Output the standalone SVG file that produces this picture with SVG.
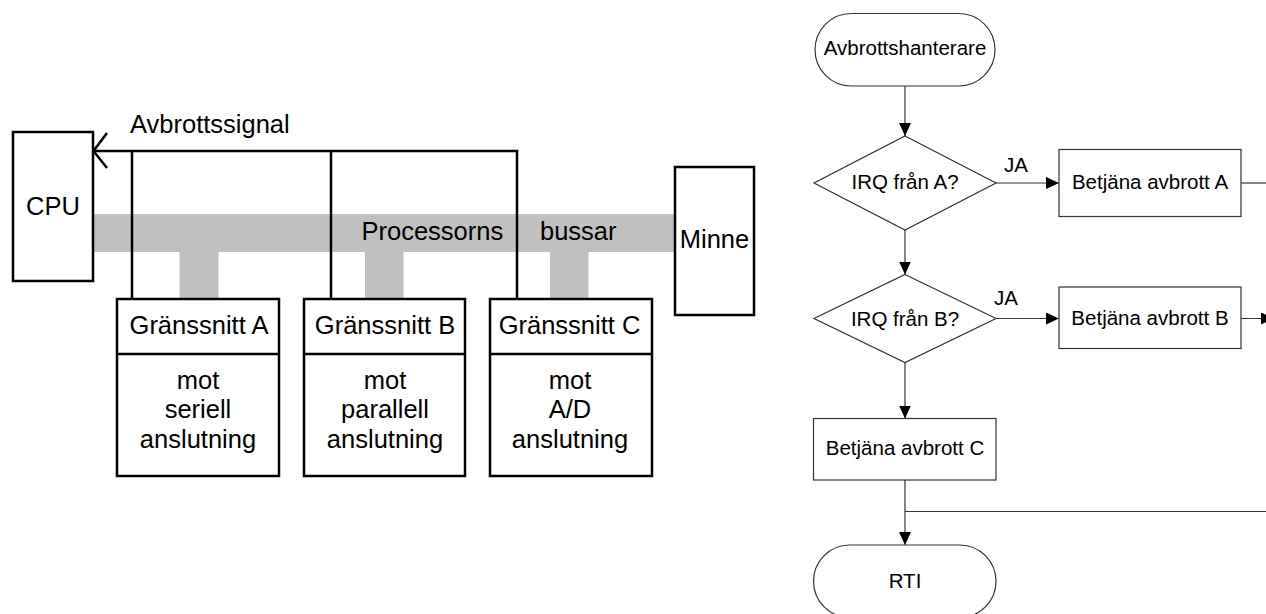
<svg xmlns="http://www.w3.org/2000/svg" width="1266" height="614" viewBox="0 0 1266 614">
  <style>
    .txt { font-family: "Liberation Sans", Arial, sans-serif; fill: #000; }
    .big { font-size: 25.5px; }
    .small { font-size: 20.5px; }
    .hw { fill: #fff; stroke: #000; stroke-width: 2.5; }
    .bus { fill: #c0c0c0; }
    .sig { fill: none; stroke: #000; stroke-width: 2.5; }
    .fc { fill: #fff; stroke: #333; stroke-width: 1.2; }
    .flow { fill: none; stroke: #333; stroke-width: 1.2; }
  </style>
  <defs>
    <marker id="arr" viewBox="0 0 13 12" refX="13" refY="6" markerWidth="13" markerHeight="12" markerUnits="userSpaceOnUse" orient="auto">
      <path d="M0,0 L13,6 L0,12 z" fill="#000"/>
    </marker>
  </defs>
  <rect width="1266" height="614" fill="#fff"/>

  <!-- processor bus with stubs down to each interface -->
  <g id="bus">
    <rect class="bus" x="92" y="214" width="583" height="38"/>
    <rect class="bus" x="179.5" y="250" width="39" height="50"/>
    <rect class="bus" x="365" y="250" width="38.5" height="50"/>
    <rect class="bus" x="550" y="250" width="38.5" height="50"/>
    <text class="txt big" x="361.5" y="240">Processorns</text>
    <text class="txt big" x="540" y="240">bussar</text>
  </g>

  <!-- interrupt signal lines -->
  <g id="connectors-hw">
    <polyline class="sig" points="93,151 517,151 517,299"/>
    <line class="sig" x1="132" y1="151" x2="132" y2="299"/>
    <line class="sig" x1="331" y1="151" x2="331" y2="299"/>
    <polyline class="sig" points="107,133 93.5,151 107,168"/>
    <text class="txt big" x="130" y="133">Avbrottssignal</text>
  </g>

  <g id="cpu">
    <rect class="hw" x="13" y="132" width="80" height="149"/>
    <text class="txt big" x="53" y="215" text-anchor="middle">CPU</text>
  </g>

  <g id="minne">
    <rect class="hw" x="675" y="167" width="79" height="148"/>
    <text class="txt big" x="714.5" y="248" text-anchor="middle">Minne</text>
  </g>

  <g id="grans-a">
    <rect class="hw" x="117" y="299" width="162" height="177"/>
    <line class="sig" x1="117" y1="354" x2="279" y2="354"/>
    <text class="txt big" x="199" y="334" text-anchor="middle">Gränssnitt A</text>
    <text class="txt big" x="198" y="388.5" text-anchor="middle">mot</text>
    <text class="txt big" x="198" y="418" text-anchor="middle">seriell</text>
    <text class="txt big" x="198" y="447.5" text-anchor="middle">anslutning</text>
  </g>

  <g id="grans-b">
    <rect class="hw" x="304" y="299" width="161" height="177"/>
    <line class="sig" x1="304" y1="354" x2="465" y2="354"/>
    <text class="txt big" x="385" y="334" text-anchor="middle">Gränssnitt B</text>
    <text class="txt big" x="385" y="388.5" text-anchor="middle">mot</text>
    <text class="txt big" x="385" y="418" text-anchor="middle">parallell</text>
    <text class="txt big" x="385" y="447.5" text-anchor="middle">anslutning</text>
  </g>

  <g id="grans-c">
    <rect class="hw" x="490" y="299" width="162" height="177"/>
    <line class="sig" x1="490" y1="354" x2="652" y2="354"/>
    <text class="txt big" x="569.5" y="334" text-anchor="middle">Gränssnitt C</text>
    <text class="txt big" x="570" y="388.5" text-anchor="middle">mot</text>
    <text class="txt big" x="570" y="418" text-anchor="middle">A/D</text>
    <text class="txt big" x="570" y="447.5" text-anchor="middle">anslutning</text>
  </g>

  <!-- flowchart connectors -->
  <g id="connectors-flow">
    <line class="flow" x1="905" y1="86" x2="905" y2="136" marker-end="url(#arr)"/>
    <line class="flow" x1="905" y1="230" x2="905" y2="274.5" marker-end="url(#arr)"/>
    <line class="flow" x1="996" y1="183" x2="1059" y2="183" marker-end="url(#arr)"/>
    <line class="flow" x1="1241" y1="183" x2="1270" y2="183"/>
    <line class="flow" x1="996" y1="318.5" x2="1059" y2="318.5" marker-end="url(#arr)"/>
    <line class="flow" x1="1241" y1="318.5" x2="1274" y2="318.5" marker-end="url(#arr)"/>
    <line class="flow" x1="905" y1="362.5" x2="905" y2="418.5" marker-end="url(#arr)"/>
    <line class="flow" x1="905" y1="480" x2="905" y2="545" marker-end="url(#arr)"/>
    <line class="flow" x1="905" y1="511.5" x2="1270" y2="511.5"/>
    <text class="txt small" x="1004" y="172">JA</text>
    <text class="txt small" x="994" y="305">JA</text>
  </g>

  <g id="start">
    <rect class="fc" x="815" y="13.5" width="180" height="72.5" rx="36.25" ry="36.25"/>
    <text class="txt small" x="905" y="55" text-anchor="middle">Avbrottshanterare</text>
  </g>

  <g id="irq-a">
    <polygon class="fc" points="905,136 996,183 905,230 814,183"/>
    <text class="txt small" x="905" y="188.5" text-anchor="middle">IRQ från A?</text>
  </g>

  <g id="serve-a">
    <rect class="fc" x="1059" y="149.5" width="182" height="67"/>
    <text class="txt small" x="1150" y="188.5" text-anchor="middle">Betjäna avbrott A</text>
  </g>

  <g id="irq-b">
    <polygon class="fc" points="905,274.5 996,318.5 905,362.5 814,318.5"/>
    <text class="txt small" x="905" y="325.5" text-anchor="middle">IRQ från B?</text>
  </g>

  <g id="serve-b">
    <rect class="fc" x="1059" y="287" width="182" height="61.5"/>
    <text class="txt small" x="1150" y="324.5" text-anchor="middle">Betjäna avbrott B</text>
  </g>

  <g id="serve-c">
    <rect class="fc" x="813.5" y="418.5" width="182.5" height="61.5"/>
    <text class="txt small" x="905" y="454.5" text-anchor="middle">Betjäna avbrott C</text>
  </g>

  <g id="rti">
    <rect class="fc" x="813.5" y="545" width="182.5" height="72.5" rx="36.25" ry="36.25"/>
    <text class="txt small" x="905" y="587.5" text-anchor="middle">RTI</text>
  </g>
</svg>
